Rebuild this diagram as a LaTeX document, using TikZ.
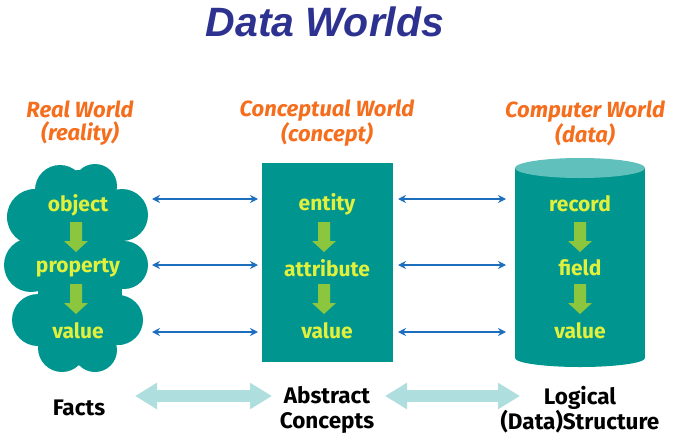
\documentclass[tikz,border=0pt]{standalone}
\usepackage{fontspec}
\setmainfont{Fira Sans}
\newfontfamily\titlefont{Liberation Sans}
\usetikzlibrary{arrows.meta}
\definecolor{teal1}{RGB}{0,150,143}
\definecolor{tealtop}{RGB}{95,192,188}
\definecolor{yel}{RGB}{225,240,60}
\definecolor{grn}{RGB}{140,198,63}
\definecolor{blu}{RGB}{30,110,190}
\definecolor{orng}{RGB}{245,110,30}
\definecolor{ttl}{RGB}{45,50,145}
\definecolor{cyanl}{RGB}{175,222,222}
\begin{document}
\begin{tikzpicture}[x=1pt,y=-1pt,
  lbl/.style={font=\fontsize{21}{21}\selectfont\bfseries, text=yel, inner sep=0pt},
  hdr/.style={font=\fontsize{22}{23}\selectfont\bfseries\itshape, text=orng, align=center, inner sep=0pt},
  bot/.style={font=\fontsize{22.5}{25}\selectfont\bfseries, align=center, inner sep=0pt},
  blu/.style={draw=blu, line width=1.3pt, {Stealth[length=8pt,width=8pt]}-{Stealth[length=8pt,width=8pt]}},
  fat/.style={draw=cyanl, line width=12pt, {Triangle[length=22pt,width=25pt]}-{Triangle[length=22pt,width=25pt]}},
  garrow/.pic={\fill[grn] (-6,0) -- (6,0) -- (6,19) -- (12,19) -- (0,30) -- (-12,19) -- (-6,19) -- cycle;}
]
\useasboundingbox (0,0) rectangle (684,439);
% title
\node[font=\titlefont\fontsize{41}{41}\selectfont\bfseries\itshape, text=ttl, inner sep=0pt] (title) at (325,22) {Data Worlds};
% headers
\node[hdr] (hreal) at (80,123) {Real World\\(reality)};
\node[hdr] (hconc) at (327,123) {Conceptual World\\(concept)};
\node[hdr] (hcomp) at (585,123) {Computer World\\(data)};
% cloud
\fill[teal1] (38,195) rectangle (122,345);
\foreach \cx/\cy/\r in {60/190/25, 95/186/22, 35/217/28, 31/265/27, 38/320/26, 122/215/26, 124/265/24, 118/320/25, 62/348/24, 95/350/22, 80/200/30, 80/330/30}
  \fill[teal1] (\cx,\cy) circle (\r);
% rectangle
\node[fill=teal1, minimum width=131pt, minimum height=199pt, inner sep=0pt] (rect) at (327.5,262.5) {};
% cylinder
\fill[teal1] (515,168) rectangle (645,358);
\fill[teal1] (580,358) ellipse (65 and 9);
\fill[tealtop] (580,168) ellipse (65 and 10);
% labels
\node[lbl] (obj) at (78,205) {object};
\node[lbl] (prop) at (78,268) {property};
\node[lbl] (val1) at (78,331) {value};
\node[lbl] (ent) at (327,204) {entity};
\node[lbl] (attr) at (327,268) {attribute};
\node[lbl] (val2) at (327,331) {value};
\node[lbl] (rec) at (580,204) {record};
\node[lbl] (fld) at (580,268) {field};
\node[lbl] (val3) at (580,331) {value};
% green arrows
\pic at (76,222) {garrow};
\pic at (76,284) {garrow};
\pic at (324,222) {garrow};
\pic at (324,284) {garrow};
\pic at (580,222) {garrow};
\pic at (580,284) {garrow};
% blue arrows
\coordinate (a1) at (152,199); \coordinate (b1) at (258,199);
\coordinate (a2) at (152,265); \coordinate (b2) at (258,265);
\coordinate (a3) at (152,332); \coordinate (b3) at (258,332);
\coordinate (c1) at (398,199); \coordinate (d1) at (506,199);
\coordinate (c2) at (398,265); \coordinate (d2) at (506,265);
\coordinate (c3) at (398,332); \coordinate (d3) at (506,332);
\foreach \i in {1,2,3} {
  \draw[blu] (a\i) -- (b\i);
  \draw[blu] (c\i) -- (d\i);
}
% bottom
\node[bot] (facts) at (79,408) {Facts};
\node[bot] (abs) at (327,409.5) {Abstract\\Concepts};
\node[bot] (logi) at (580,409.5) {Logical\\(Data)Structure};
\coordinate (e1) at (135,396); \coordinate (f1) at (272,396);
\coordinate (e2) at (385,396); \coordinate (f2) at (520,396);
\draw[fat] (e1) -- (f1);
\draw[fat] (e2) -- (f2);
\end{tikzpicture}
\end{document}
